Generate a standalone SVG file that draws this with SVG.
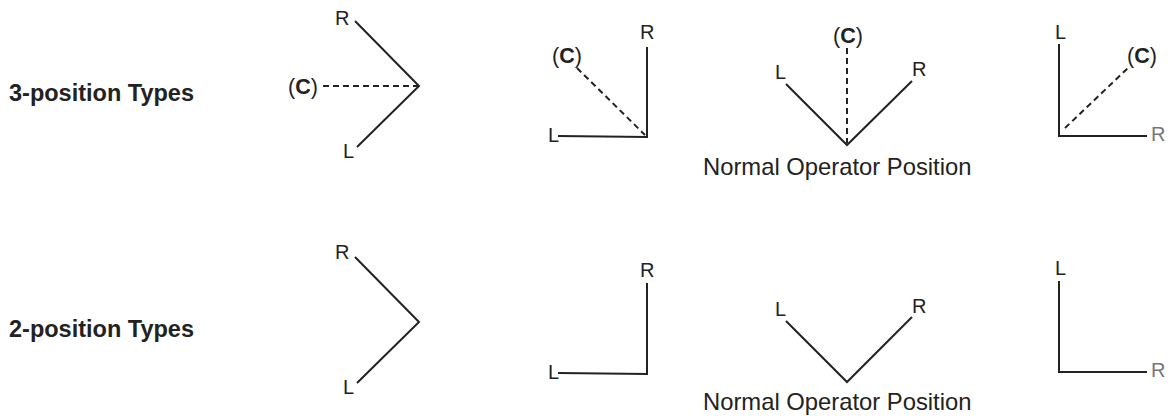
<svg xmlns="http://www.w3.org/2000/svg" width="1168" height="416" viewBox="0 0 1168 416">
<style>
.ln{fill:none;stroke:#222;stroke-width:2;stroke-linecap:butt;stroke-linejoin:miter}
.ds{fill:none;stroke:#222;stroke-width:2;stroke-dasharray:6 4}
.lb{font-family:"Liberation Sans",Arial,sans-serif;font-size:20px;fill:#222}
.cl{font-family:"Liberation Sans",Arial,sans-serif;font-size:21.5px;fill:#222}
.gr{fill:#777}
.cb{font-weight:bold}
.ttl{font-family:"Liberation Sans",Arial,sans-serif;font-size:23.5px;font-weight:bold;fill:#222}
.cap{font-family:"Liberation Sans",Arial,sans-serif;font-size:23.8px;fill:#222}
</style>
<rect width="1168" height="416" fill="#fff"/>
<g id="titles">
<text class="ttl" x="9" y="101">3-position Types</text>
<text class="ttl" x="9" y="337">2-position Types</text>
</g>
<g id="connectors">
<polyline class="ln" points="355,21 419,86 357,147"/>
<line class="ds" x1="323" y1="86" x2="419" y2="86"/>
<polyline class="ln" points="647,47 647,137 558,136"/>
<line class="ds" x1="577" y1="68" x2="645" y2="135"/>
<polyline class="ln" points="786,84 847,145 912,81"/>
<line class="ds" x1="847" y1="48" x2="847" y2="143"/>
<polyline class="ln" points="1059,44 1059,136 1147,136"/>
<line class="ds" x1="1065" y1="128" x2="1129" y2="67"/>
<polyline class="ln" points="355,257 419,322 357,383"/>
<polyline class="ln" points="647,283 647,374 558,373"/>
<polyline class="ln" points="786,321 847,382 912,317"/>
<polyline class="ln" points="1059,281 1059,372 1147,372"/>
</g>
<g id="node-3pos-a">
<text class="lb" x="335" y="25">R</text>
<text class="lb" x="343" y="158">L</text>
<text class="cl" x="288" y="94">(<tspan class="cb">C</tspan>)</text>
</g>
<g id="node-3pos-b">
<text class="lb" x="640" y="39">R</text>
<text class="lb" x="548" y="142">L</text>
<text class="cl" x="552" y="63">(<tspan class="cb">C</tspan>)</text>
</g>
<g id="node-3pos-c">
<text class="cl" x="833" y="43">(<tspan class="cb">C</tspan>)</text>
<text class="lb" x="775" y="79">L</text>
<text class="lb" x="912" y="76">R</text>
<text class="cap" x="703" y="175">Normal Operator Position</text>
</g>
<g id="node-3pos-d">
<text class="lb" x="1055" y="39">L</text>
<text class="cl" x="1127" y="63">(<tspan class="cb">C</tspan>)</text>
<text class="lb gr" x="1151" y="141">R</text>
</g>
<g id="node-2pos-a">
<text class="lb" x="335" y="259">R</text>
<text class="lb" x="343" y="394">L</text>
</g>
<g id="node-2pos-b">
<text class="lb" x="640" y="277">R</text>
<text class="lb" x="548" y="379">L</text>
</g>
<g id="node-2pos-c">
<text class="lb" x="775" y="316">L</text>
<text class="lb" x="912" y="313">R</text>
<text class="cap" x="703" y="410">Normal Operator Position</text>
</g>
<g id="node-2pos-d">
<text class="lb" x="1055" y="275">L</text>
<text class="lb gr" x="1151" y="377">R</text>
</g>
</svg>
